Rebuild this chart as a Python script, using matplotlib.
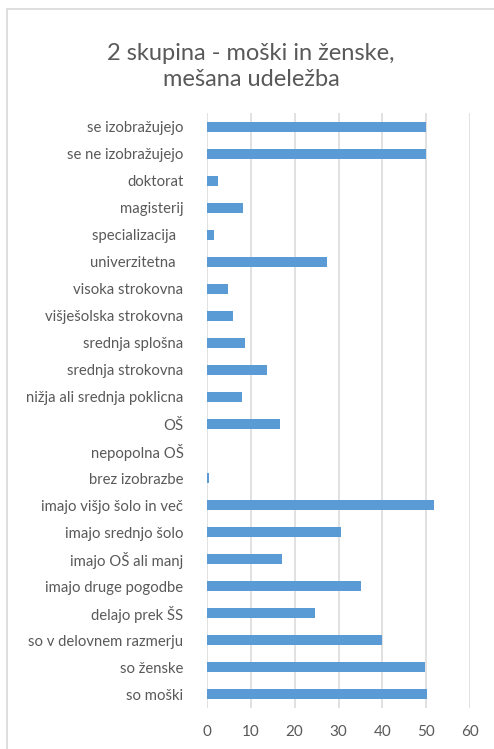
import matplotlib.pyplot as plt
from matplotlib.patches import Rectangle

plt.rcParams['font.family'] = ['Lato', 'DejaVu Sans']

categories = ['se izobražujejo', 'se ne izobražujejo', 'doktorat', 'magisterij',
              'specializacija  ', 'univerzitetna  ', 'visoka strokovna',
              'višješolska strokovna', 'srednja splošna', 'srednja strokovna',
              'nižja ali srednja poklicna', 'OŠ', 'nepopolna OŠ', 'brez izobrazbe',
              'imajo višjo šolo in več', 'imajo srednjo šolo', 'imajo OŠ ali manj',
              'imajo druge pogodbe', 'delajo prek ŠS', 'so v delovnem razmerju',
              'so ženske', 'so moški']
values = [49.9, 50.0, 2.6, 8.3, 1.6, 27.4, 4.8, 5.9, 8.6, 13.8, 8.0, 16.7, 0.0, 0.5,
          51.9, 30.5, 17.2, 35.2, 24.7, 40.0, 49.7, 50.3]
xticks = [0, 10, 20, 30, 40, 50, 60]

text_col = '#595959'
grid_col = '#d9d9d9'

fig = plt.figure(figsize=(4.94, 7.49), dpi=100)
ax = fig.add_axes([207 / 494, 1 - 708 / 749, 263 / 494, 595 / 749])

ypos = list(range(len(categories)))[::-1]
ax.barh(ypos, values, height=0.37, color='#5B9BD5', zorder=3)

ax.set_xlim(0, 60)
ax.set_ylim(-0.5, len(categories) - 0.5)
ax.set_xticks(xticks)
ax.set_xticklabels([str(t) for t in xticks], fontsize=11, color=text_col)
ax.set_yticks(ypos)
ax.set_yticklabels(categories, fontsize=10.7, color=text_col)
ax.tick_params(axis='both', length=0)
ax.tick_params(axis='y', pad=17)
ax.tick_params(axis='x', pad=12)
ax.grid(axis='x', color=grid_col, linewidth=1.1, zorder=0)
for s in ax.spines.values():
    s.set_visible(False)

fig.text(0.508, 1 - 53 / 749, '2 skupina - moški in ženske,', ha='center', va='center',
         fontsize=17, color=text_col)
fig.text(0.508, 1 - 79 / 749, 'mešana udeležba', ha='center', va='center',
         fontsize=17, color=text_col)

# chart frame (only top/left visible in the crop)
fig.patches.append(Rectangle((7 / 494, -0.1), 1.2, 1.1 - 9 / 749, transform=fig.transFigure,
                             fill=False, edgecolor=grid_col, linewidth=1.2))

fig.savefig('out.png', dpi=100)
